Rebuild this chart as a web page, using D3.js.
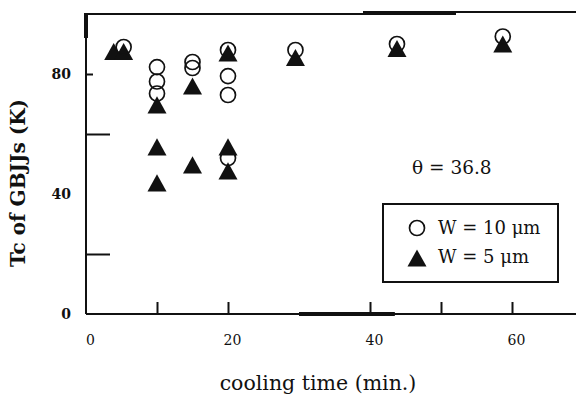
<!DOCTYPE html>
<html>
<head>
<meta charset="utf-8">
<script src="https://cdn.jsdelivr.net/npm/d3@7"></script>
<style>
  html, body { margin: 0; padding: 0; background: #fff; }
  svg { display: block; }
  text { font-family: "DejaVu Serif", "Liberation Serif", serif; fill: #111; }
</style>
</head>
<body>
<svg id="chart" width="576" height="396"></svg>
<script>
// Tc of grain-boundary Josephson junctions vs. cooling time
const wideTime = [5.3, 10, 10, 10, 15, 15, 20, 20, 20, 20, 29.5, 43.8, 58.7];
const wideTc   = [89, 82.3, 77.5, 73.5, 84, 82, 88, 79.3, 73, 52, 88, 90, 92.5];
const narrowTime = [3.9, 5.3, 10, 10, 10, 15, 15, 20, 20, 20, 29.5, 43.8, 58.7];
const narrowTc   = [87.5, 87.5, 69.7, 55.7, 43.7, 76, 49.7, 87, 55.7, 47.7, 85.5, 88.5, 90];
const xTickValues = [0, 10, 20, 30, 40, 50, 60];
const xTickLabels = ["0", "", "20", "", "40", "", "60"];
const yTickValues = [0, 20, 40, 60, 80];
const yTickLabels = ["0", "", "40", "", "80"];
const legendLabels = ["W = 10 \u03bcm", "W = 5 \u03bcm"];
const noteText = "\u03b8 = 36.8";

const svg = d3.select("#chart");
const plotL = 86, plotT = 13, plotR = 576, plotB = 314;

const x = d3.scaleLinear().domain([0, 69]).range([plotL, plotL + 69 * 7.1]);
const y = d3.scaleLinear().domain([0, 100]).range([plotB, plotB - 300]);

// frame: left and bottom axes, top edge
const frame = svg.append("g").attr("stroke", "#111").attr("fill", "none");
frame.append("line").attr("x1", plotL).attr("x2", plotL).attr("y1", plotT).attr("y2", plotB).attr("stroke-width", 2);
frame.append("line").attr("x1", plotL).attr("x2", plotR).attr("y1", plotB).attr("y2", plotB).attr("stroke-width", 2);
frame.append("line").attr("x1", plotL - 1).attr("x2", 364).attr("y1", plotT + 1).attr("y2", plotT + 1).attr("stroke-width", 2);
frame.append("line").attr("x1", 363).attr("x2", 456).attr("y1", plotT).attr("y2", plotT).attr("stroke-width", 4);
frame.append("line").attr("x1", 455).attr("x2", plotR).attr("y1", plotT - 1).attr("y2", plotT - 1).attr("stroke-width", 2);
frame.append("line").attr("x1", plotL).attr("x2", plotL).attr("y1", plotT).attr("y2", plotT + 25).attr("stroke-width", 4);
frame.append("line").attr("x1", x(30)).attr("x2", x(43.5)).attr("y1", plotB).attr("y2", plotB).attr("stroke-width", 4);

// x axis: inward ticks
const xAxis = d3.axisBottom(x).tickValues(xTickValues).tickSize(0).tickSizeOuter(0)
  .tickFormat((d, i) => xTickLabels[i]).tickPadding(20);
const gx = svg.append("g").attr("transform", `translate(0,${plotB})`).call(xAxis);
gx.select(".domain").remove();
gx.selectAll(".tick line").attr("y2", d => d === 0 || d === 30 ? 0 : -12)
  .attr("stroke", "#111").attr("stroke-width", 2);
gx.selectAll(".tick text").attr("font-size", 14).attr("dx", 4).attr("dy", "0.75em");

// y axis: long inward ticks on unlabelled values, stub at 80
const yAxis = d3.axisLeft(y).tickValues(yTickValues).tickSize(0).tickPadding(15)
  .tickFormat((d, i) => yTickLabels[i]);
const gy = svg.append("g").attr("transform", `translate(${plotL},0)`).call(yAxis);
gy.select(".domain").remove();
gy.selectAll(".tick line")
  .attr("x2", d => d === 20 || d === 60 ? 24 : d === 80 ? 7 : 0)
  .attr("stroke", "#111").attr("stroke-width", 2);
gy.selectAll(".tick text").attr("font-size", 14).attr("font-weight", "bold");

// axis titles
svg.append("text").attr("x", 318).attr("y", 390).attr("text-anchor", "middle")
  .attr("font-size", 20.5).text("cooling time (min.)");
svg.append("text").attr("transform", "translate(25,183) rotate(-90)").attr("text-anchor", "middle")
  .attr("font-size", 20).attr("font-weight", "bold").text("Tc of GBJJs (K)");

// markers
const triPath = (cx, cy, s) => {
  const h = s * 0.9;
  return `M${cx},${cy - h / 2}L${cx + s / 2},${cy + h / 2}L${cx - s / 2},${cy + h / 2}Z`;
};

svg.append("g").selectAll("path").data(d3.zip(narrowTime, narrowTc)).join("path")
  .attr("d", d => triPath(x(d[0]), y(d[1]), 19))
  .attr("fill", "#111");

svg.append("g").selectAll("circle").data(d3.zip(wideTime, wideTc)).join("circle")
  .attr("cx", d => x(d[0])).attr("cy", d => y(d[1])).attr("r", 7.5)
  .attr("fill", "none").attr("stroke", "#111").attr("stroke-width", 1.7);

// annotation
svg.append("text").attr("x", 412).attr("y", 174).attr("font-size", 18.5).text(noteText);

// legend
const lg = svg.append("g");
lg.append("rect").attr("x", 383).attr("y", 204).attr("width", 175).attr("height", 78)
  .attr("fill", "#fff").attr("stroke", "#111").attr("stroke-width", 2);
lg.append("circle").attr("cx", 417).attr("cy", 228).attr("r", 7.5)
  .attr("fill", "none").attr("stroke", "#111").attr("stroke-width", 1.7);
lg.append("path").attr("d", triPath(417, 258, 19)).attr("fill", "#111");
lg.selectAll("text.lab").data(legendLabels).join("text").attr("class", "lab")
  .attr("x", 438).attr("y", (d, i) => 234 + i * 29).attr("font-size", 18).text(d => d);
</script>
</body>
</html>
